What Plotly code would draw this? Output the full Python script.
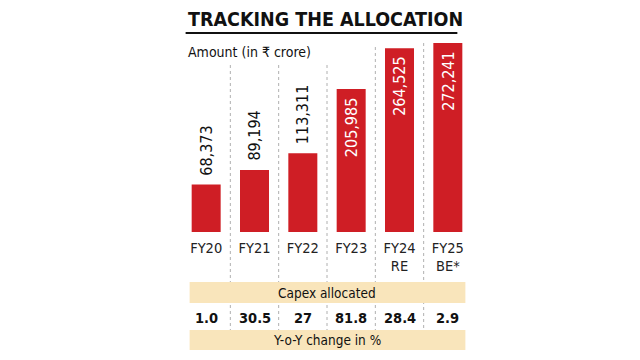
import plotly.graph_objects as go

categories = ["FY20", "FY21", "FY22", "FY23", "FY24 RE", "FY25 BE*"]
tick_labels = ["FY20", "FY21", "FY22", "FY23", "FY24<br>RE", "FY25<br>BE*"]
capex = [68373, 89194, 113311, 205985, 264525, 272241]
yoy = ["1.0", "30.5", "27", "81.8", "28.4", "2.9"]
inside = [False, False, False, True, True, True]

RED = "#cf1e25"
BEIGE = "#f9e5bb"
FONT = "DejaVu Sans Condensed"

# plot area geometry (pixels)
L, R, T, B = 182.4, 471.6, 40, 232
H = B - T
YMAX = H * 1440.5

def py(p):
    return (B - p) / H

def px(p):
    return (p - L) / (R - L)

fig = go.Figure()
fig.add_trace(go.Bar(
    x=list(range(len(categories))), y=capex, width=0.6,
    marker=dict(color=RED, line=dict(width=0)),
    hoverinfo="x+y",
))

ann = []
for i, (v, ins) in enumerate(zip(capex, inside)):
    ann.append(dict(
        x=i, y=v, xref="x", yref="y", text=f"{v:,}", textangle=-90,
        showarrow=False, yanchor="top" if ins else "bottom",
        yshift=-6 if ins else 7,
        font=dict(family=FONT, size=16, color="white" if ins else "#111"),
    ))
for i, t in enumerate(yoy):
    ann.append(dict(
        x=i, y=py(318), xref="x", yref="paper", text=f"<b>{t}</b>",
        showarrow=False, yanchor="middle",
        font=dict(family=FONT, size=14.5, color="#111"),
    ))

ann += [
    dict(x=px(186), y=py(19), xref="paper", yref="paper",
         text="<b>TRACKING THE ALLOCATION</b>", showarrow=False,
         xanchor="left", yanchor="middle",
         font=dict(family=FONT, size=19.5, color="#111")),
    dict(x=px(186), y=py(52), xref="paper", yref="paper",
         text="Amount (in ₹ crore)", showarrow=False,
         xanchor="left", yanchor="middle",
         font=dict(family=FONT, size=14, color="#111")),
    dict(x=px(327), y=py(293), xref="paper", yref="paper",
         text="Capex allocated", showarrow=False, yanchor="middle",
         font=dict(family=FONT, size=13.5, color="#111")),
    dict(x=px(327), y=py(340), xref="paper", yref="paper",
         text="Y-o-Y change in %", showarrow=False, yanchor="middle",
         font=dict(family=FONT, size=13.5, color="#111")),
]

shapes = []
sep_tops = [65, 65, 65, 47, 43]
for i, top in enumerate(sep_tops):
    shapes.append(dict(type="line", xref="x", yref="paper",
                       x0=i + 0.5, x1=i + 0.5, y0=py(top), y1=py(330),
                       line=dict(color="#b0b0b0", width=1, dash="dot"),
                       layer="below"))
for y0, y1 in [(282, 303), (330, 350)]:
    shapes.append(dict(type="rect", xref="paper", yref="paper",
                       x0=px(190), x1=px(465),
                       y0=py(y1), y1=py(y0),
                       fillcolor=BEIGE, line=dict(width=0), layer="below"))
shapes.append(dict(type="line", xref="paper", yref="paper",
                   x0=px(186), x1=px(457),
                   y0=py(33), y1=py(33), line=dict(color="#111", width=2)))

fig.update_layout(
    width=640, height=360,
    margin=dict(l=L, r=640 - R, t=T, b=360 - B, pad=0),
    paper_bgcolor="white", plot_bgcolor="rgba(0,0,0,0)",
    showlegend=False,
    xaxis=dict(range=[-0.5, 5.5], tickmode="array",
               tickvals=list(range(len(categories))), ticktext=tick_labels,
               showgrid=False, zeroline=False, showline=False, ticks="",
               ticklabelstandoff=5,
               tickfont=dict(family=FONT, size=14.5, color="#222"),
               fixedrange=True),
    yaxis=dict(range=[0, YMAX], visible=False, fixedrange=True),
    annotations=ann, shapes=shapes,
)

fig.write_html("out.html", config={"displayModeBar": False},
               post_script="document.body.style.margin='0';")
